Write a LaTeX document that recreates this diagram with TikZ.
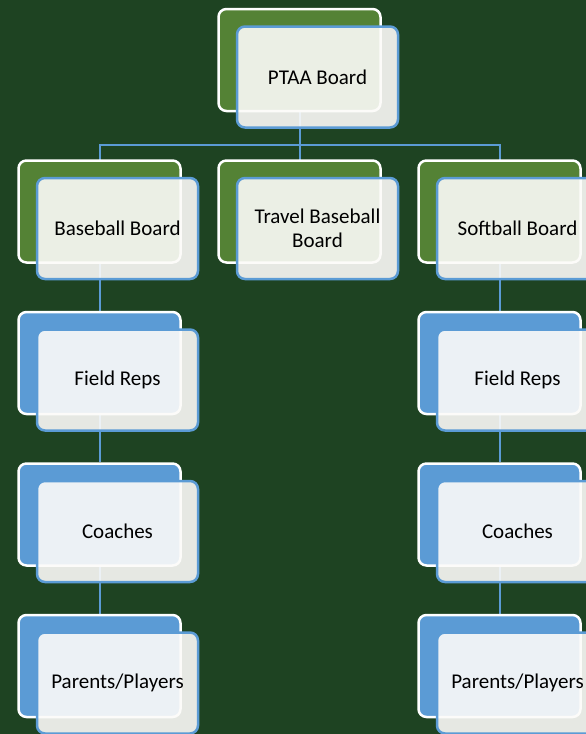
\documentclass[tikz,border=0pt]{standalone}
\usepackage{fontspec}
\setmainfont{Carlito}
\usetikzlibrary{backgrounds}
\definecolor{boardbg}{RGB}{30,67,34}
\definecolor{leafgreen}{RGB}{84,130,53}
\definecolor{skyblue}{RGB}{91,155,213}
\definecolor{paper}{RGB}{252,251,249}

\begin{document}
\begin{tikzpicture}[x=1pt,y=1pt,
level distance=151.5pt,
level 1/.style={sibling distance=200pt},
edge from parent/.style={draw=none},
back/.style={rectangle,rounded corners=8pt,draw=white,line width=2.5pt,minimum width=162pt,minimum height=102pt},
greenbox/.style={back,fill=leafgreen},
bluebox/.style={back,fill=skyblue},
front/.style={rectangle,rounded corners=8pt,draw=skyblue,line width=2.5pt,fill=paper,fill opacity=0.9,text opacity=1,minimum width=161pt,minimum height=101pt,align=center,font=\fontsize{21}{23.5}\selectfont},
link/.style={draw=skyblue,line width=2pt}
]
\useasboundingbox (0,0) rectangle (586,-734);

\node[greenbox] (ptaa) at (299.5,-60) {}
child {
    node[greenbox] (baseball) {}
    child {
        node[bluebox] (fieldA) {}
        child {
            node[bluebox] (coachA) {}
            child {node[bluebox] (parentA) {}}
        }
    }
}
child {node[greenbox] (travel) {}}
child {
    node[greenbox] (softball) {}
    child {
        node[bluebox] (fieldB) {}
        child {
            node[bluebox] (coachB) {}
            child {node[bluebox] (parentB) {}}
        }
    }
};

\foreach \n/\t in {ptaa/PTAA Board, baseball/Baseball Board, travel/{Travel Baseball\\Board}, softball/Softball Board,
  fieldA/Field Reps, coachA/Coaches, parentA/{Parents/Players}, fieldB/Field Reps, coachB/Coaches, parentB/{Parents/Players}}
  \node[front] (\n-t) at ([shift={(18,-17)}]\n.center) {\t};

\begin{scope}[on background layer]
\fill[boardbg] (0,0) rectangle (586,-734);
\draw[link] (ptaa.center) -- ([yshift=-33pt]ptaa.south) coordinate (split);
\draw[link] (baseball.center) |- (split) -| (softball.center);
\draw[link] (split) -- (travel.center);
\foreach \a/\b in {baseball/fieldA, fieldA/coachA, coachA/parentA, softball/fieldB, fieldB/coachB, coachB/parentB}
  \draw[link] (\a) -- (\b);
\end{scope}

\end{tikzpicture}
\end{document}
